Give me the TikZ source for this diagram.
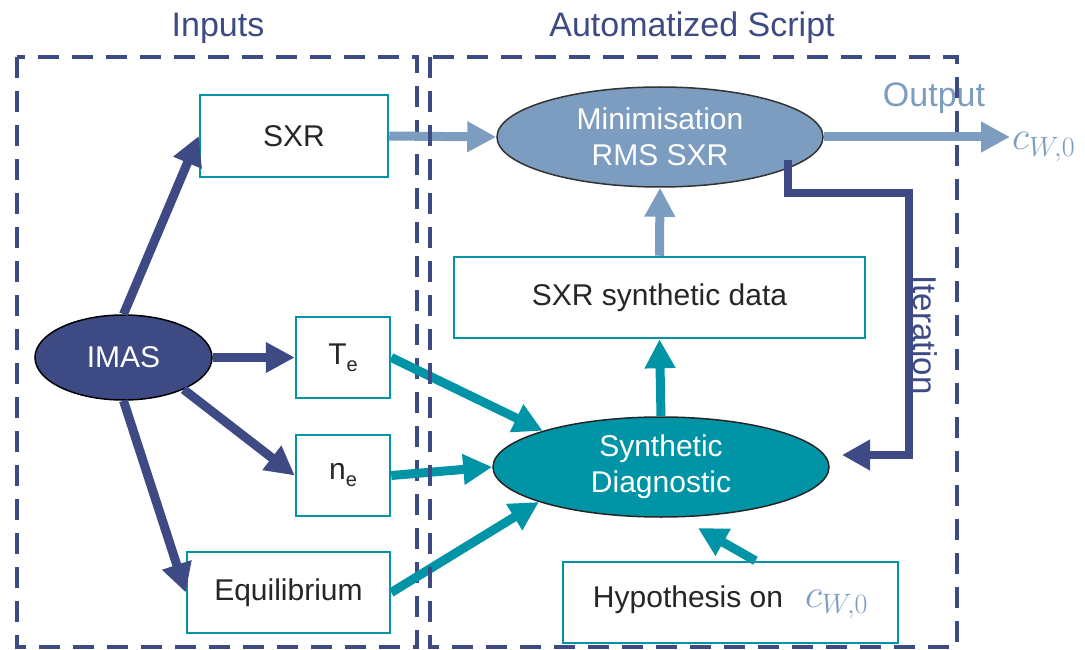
\documentclass[tikz,border=0pt]{standalone}
\usepackage{fix-cm}
\usepackage[no-math]{fontspec}
\setmainfont{Liberation Sans}
\usetikzlibrary{arrows.meta,shapes.geometric,calc}
\definecolor{dblue}{HTML}{3E4A84}
\definecolor{lblue}{HTML}{7C9DBF}
\definecolor{tealc}{HTML}{0094A6}
\definecolor{txt}{HTML}{262626}
\begin{document}
\begin{tikzpicture}[x=1pt,y=-1pt,
  every node/.style={font=\fontsize{30}{36}\selectfont, text=txt},
  box/.style={draw=tealc, line width=2.5pt, fill=white, inner sep=0pt},
  ell/.style={ellipse, inner sep=0pt, line width=1.5pt, align=center, text=white},
  arr/.style={line width=9pt, -{Triangle[length=29pt,width=29pt]}},
  frame/.style={draw=dblue, line width=4pt, dash pattern=on 21pt off 13pt},
  title/.style={font=\fontsize{34}{40}\selectfont, anchor=base, inner sep=0pt},
]
\useasboundingbox (0,0) rectangle (1085,650);
\draw[frame] (17,57) rectangle (417,647);

% titles
\node[title, text=dblue] (tin) at (218,37) {Inputs};
\node[title, text=dblue] (tas) at (692,37) {Automatized Script};
\node[title, text=lblue] (tout) at (934,107) {Output};

% nodes
\node[box, minimum width=188pt, minimum height=82pt] (sxr) at (294,136) {SXR};
\node[box, minimum width=94pt, minimum height=81pt] (te) at (343,357.5) {T\raisebox{-7pt}{\fontsize{20}{20}\selectfont e}};
\node[box, minimum width=94pt, minimum height=81pt] (ne) at (343,475.5) {n\raisebox{-7pt}{\fontsize{20}{20}\selectfont e}};
\node[box, minimum width=203pt, minimum height=81pt] (eq) at (288.5,592.5) {Equilibrium};
\node[ell, fill=dblue, draw=black, minimum width=177pt, minimum height=85pt] (imas) at (123.5,357.5) {IMAS};
\node[ell, fill=lblue, draw=black!80, minimum width=326pt, minimum height=100pt] (min) at (660,137) {Minimisation\\RMS SXR};
\node[box, minimum width=411pt, minimum height=81pt] (syn) at (659.5,297.5) {SXR synthetic data};
\node[ell, fill=tealc, draw=black!85, minimum width=336pt, minimum height=100pt] (sd) at (661,467) {Synthetic\\Diagnostic};
\node[box, minimum width=335pt, minimum height=81pt] (hyp) at (730.5,602.5) {Hypothesis on\hspace{22pt}{\fontsize{40}{40}\selectfont\textcolor{lblue}{$c_{W,0}$}}};
\node[anchor=base west, inner sep=0pt, text=lblue, font=\fontsize{40}{40}\selectfont] (cout) at (1012,150) {$c_{W,0}$};
\node[rotate=-90, inner sep=0pt, text=dblue, font=\fontsize{33}{33}\selectfont] (iter) at (925,335) {Iteration};

% free ends
\coordinate (outend) at (1010,137);
\coordinate (hypfrom) at ([xshift=25pt]hyp.north);
\coordinate (hypto) at (698,528);
\coordinate (itfrom) at (788,160);
\coordinate (itto) at (842,455);

% connectors
\draw[arr, dblue] (imas.north) -- (sxr.west);
\draw[arr, dblue] (imas.east) -- (te.west);
\draw[arr, dblue] (imas.-28) -- (ne.west);
\draw[arr, dblue] (imas.south) -- (eq.west);
\draw[arr, lblue] (sxr.east) -- (min.west);
\draw[arr, tealc] (te.east) -- (sd.163.6);
\draw[arr, tealc] (ne.east) -- (sd.west);
\draw[arr, tealc] (eq.east) -- (sd.196.6);
\draw[arr, tealc] (sd.north) -- (syn.south);
\draw[arr, lblue] (syn.north) -- (min.south);
\draw[arr, lblue] (min.east) -- (outend);
\draw[arr, tealc] (hypfrom) -- (hypto);
\draw[dblue, line width=8pt, -{Triangle[length=28pt,width=29pt]}] (itfrom) -- (788,193) -- (909,193) -- (909,455) -- (itto);

\draw[frame] (430,57) rectangle (957,647);
\end{tikzpicture}
\end{document}
